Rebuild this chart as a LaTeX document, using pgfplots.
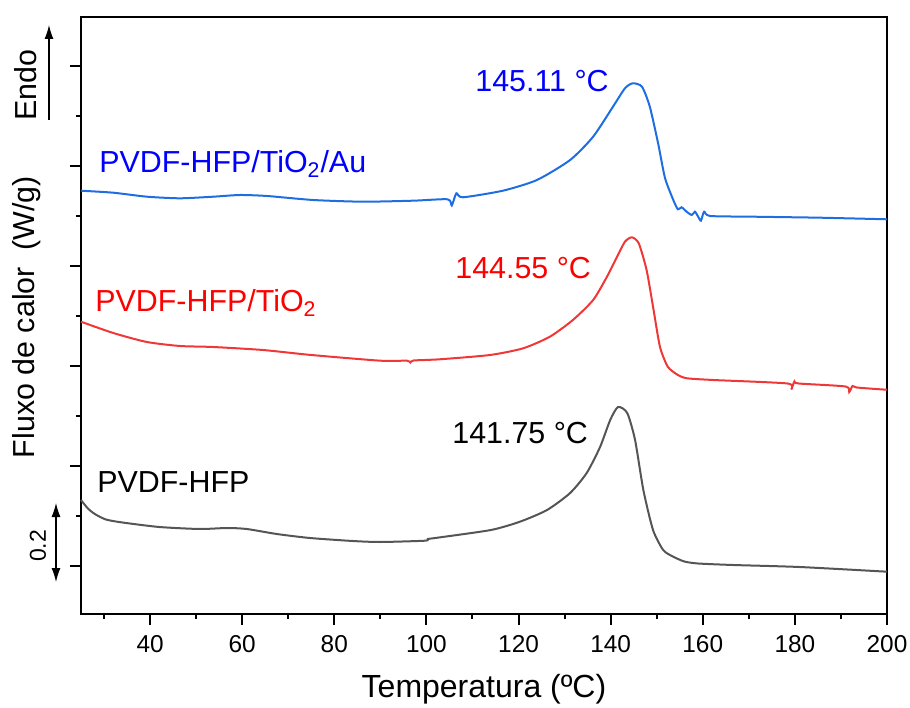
\documentclass[border=0pt]{standalone}
\usepackage{pgfplots}
\pgfplotsset{compat=1.18}
\usepackage{fontspec}
\setmainfont{Liberation Sans}
\usetikzlibrary{arrows.meta}
\definecolor{cblue}{RGB}{30,110,225}
\definecolor{cred}{RGB}{240,55,55}
\definecolor{cgray}{RGB}{85,85,85}
\newcommand{\px}[2]{({(#1-81)*0.5pt},{(614-#2)*0.5pt})}
\begin{document}
\begin{tikzpicture}
\path[use as bounding box] (-40.5pt,-46.5pt) rectangle (414.5pt,307pt);
\begin{axis}[
  at={(0pt,0pt)}, anchor=south west,
  scale only axis, width=403pt, height=298.5pt,
  xmin=25, xmax=200, ymin=-0.96, ymax=10.98,
  axis line style={line width=1pt},
  xtick={40,60,...,200}, minor xtick={30,50,...,190},
  ytick={0,2,...,10}, minor ytick={1,3,...,9}, yticklabels={},
  xtick pos=bottom, ytick pos=left, tick align=outside,
  major tick length=5.5pt, minor tick length=2.5pt,
  every tick/.style={line width=1pt, black},
  tick label style={font=\fontsize{12.2}{14}\selectfont},
  /pgf/number format/assume math mode=true,
  xticklabel style={yshift=-1.5pt},
  clip=false,
]
\addplot[cgray, line width=1pt, smooth, tension=0.4] coordinates {
(25,1.32) (26.5,1.15) (28,1.04) (30.4,0.93) (34,0.87) (42,0.78) (50.8,0.74) (56.7,0.76) (61,0.74)
(67.5,0.64) (74.7,0.56) (84,0.50) (90,0.48) (99.7,0.506) (100.3,0.54) (102.4,0.566)
(114,0.72) (120.3,0.886) (126.2,1.12) (131.2,1.46) (134.8,1.86) (137.7,2.38)
(139.9,2.92) (141.6,3.18) (143.6,3.06) (145.3,2.52) (147.1,1.52) (149.2,0.72)
(151.4,0.32) (153.5,0.19) (156,0.09) (159,0.05) (166.6,0.02) (181,-0.02) (200,-0.114)
};
\addplot[cred, line width=1pt, smooth, tension=0.4] coordinates {
(25,4.886) (32,4.66) (39.3,4.48) (46.5,4.40) (53.7,4.38) (64.5,4.32) (75,4.22)
(90,4.106) (95.8,4.106) (96.5,4.07) (97.2,4.11) (102.9,4.134) (113.8,4.22)
(121,4.354) (126.8,4.586) (131.8,4.92) (136.2,5.32) (139.2,5.786) (141.4,6.186)
(143.1,6.486) (144.6,6.574) (146.1,6.454) (147.8,5.92) (149.2,5.186) (150.7,4.386)
(152.4,3.986) (154.6,3.82) (156.6,3.754) (162.3,3.72) (178.4,3.65) (179.2,3.53)
(179.9,3.69) (180.8,3.65) (191.0,3.59) (191.8,3.48) (192.5,3.60) (193.4,3.57)
(198.5,3.534) (200,3.526)
};
\addplot[cblue, line width=1pt, smooth, tension=0.4] coordinates {
(25,7.506) (32,7.466) (39.3,7.386) (46.5,7.354) (53.7,7.386) (59.5,7.42) (65.4,7.40)
(75.4,7.32) (86.2,7.286) (97.1,7.306) (104.6,7.334) (105.5,7.21)
(106.5,7.454) (107.9,7.374) (116.6,7.506) (124,7.72) (131.2,8.12)
(136.2,8.586) (140.5,9.186) (143.1,9.554) (144.8,9.654) (146.8,9.586)
(148.5,9.186) (150.3,8.454) (151.8,7.76) (153.6,7.32) (154.6,7.134)
(155.4,7.174) (156.5,7.086) (157.6,7.02) (158.3,7.086) (159,6.986) (159.6,6.906)
(160.3,7.086) (161.6,7.0) (170.9,6.986) (185.4,6.966) (200,6.934)
};
\end{axis}
\begin{scope}[every node/.style={inner sep=0pt, font=\fontsize{15.2}{18}\selectfont}]
\node[anchor=base west, text=blue] at \px{99}{172.7} {PVDF-HFP/TiO\textsubscript{2}/Au};
\node[anchor=base west, text=red] at \px{95}{311.7} {PVDF-HFP/TiO\textsubscript{2}};
\node[anchor=base west, text=black] at \px{97}{492} {PVDF-HFP};
\node[anchor=base west, text=blue] at \px{475}{91.7} {145.11 °C};
\node[anchor=base west, text=red] at \px{455}{278.3} {144.55 °C};
\node[anchor=base west, text=black] at \px{452}{443.3} {141.75 °C};
\node[anchor=base, font=\fontsize{16}{19}\selectfont] at \px{484}{697} {Temperatura (ºC)};
\node[rotate=90] at \px{27}{317} {Fluxo de calor\ \ (W/g)};
\node[rotate=90] at \px{26}{85} {Endo};
\node[rotate=90, font=\fontsize{11.5}{13}\selectfont] at \px{38}{546} {0.2};
\end{scope}
\draw[line width=0.6pt, -{Latex[length=7pt,width=4.5pt]}] \px{49}{120} -- \px{49}{25};
\draw[line width=0.6pt, {Latex[length=7pt,width=4.5pt]}-{Latex[length=7pt,width=4.5pt]}] \px{56}{582} -- \px{56}{503};
\end{tikzpicture}
\end{document}
